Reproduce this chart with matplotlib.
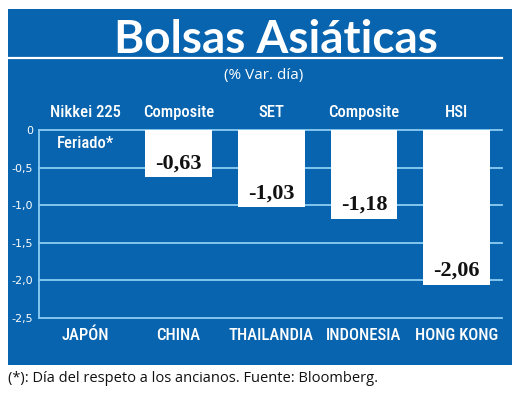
import numpy as np
import matplotlib
matplotlib.use("Agg")
import matplotlib.pyplot as plt
from matplotlib import font_manager
from matplotlib.patches import Rectangle
from matplotlib.lines import Line2D

# data
countries = ["JAPÓN", "CHINA", "THAILANDIA", "INDONESIA", "HONG KONG"]
indices = ["Nikkei 225", "Composite", "SET", "Composite", "HSI"]
values = [np.nan, -0.63, -1.03, -1.18, -2.06]     # Japan closed (holiday)
holiday_note = "Feriado*"
yticks = [0, -0.5, -1.0, -1.5, -2.0, -2.5]

BLUE, GRID, WHITE, INK = "#0864ae", "#8ccdf2", "#ffffff", "#111111"


def pick(*names):
    avail = {f.name for f in font_manager.fontManager.ttflist}
    for n in names:
        if n in avail:
            return n
    return "DejaVu Sans"


NARROW = pick("Roboto Condensed", "Liberation Sans Narrow", "Roboto")
LAB_FS = 12 if NARROW != "Roboto" else 11
SANS = pick("Open Sans", "Noto Sans", "DejaVu Sans")
HEAD = pick("Lato", "Open Sans", "DejaVu Sans")
SERIF = pick("Liberation Serif", "DejaVu Serif")

W, H = 520, 403
fig = plt.figure(figsize=(W / 100, H / 100), dpi=100)
fig.patch.set_facecolor("white")

# blue panel + rule under the title (figure pixels -> fractions)
fig.add_artist(Rectangle((8 / W, 1 - 365 / H), 504 / W, 356 / H,
                         transform=fig.transFigure, facecolor=BLUE, edgecolor="none", zorder=0))
fig.add_artist(Line2D([8 / W, 502 / W], [1 - 58 / H] * 2, transform=fig.transFigure,
                      color=WHITE, lw=1.6, zorder=1))
fig.text(276 / W, 1 - 53 / H, "Bolsas Asiáticas", ha="center", va="baseline",
         fontsize=33, fontweight="bold", color=WHITE, family=HEAD)
fig.text(264 / W, 1 - 76 / H, "(% Var. día)", ha="center", va="center",
         fontsize=11, color=WHITE, family=SANS)
fig.text(8 / W, 1 - 379 / H, "(*): Día del respeto a los ancianos. Fuente: Bloomberg.",
         ha="left", va="center", fontsize=10.5, color=INK, family=SANS)

ax = fig.add_axes([39 / W, 85 / H, 463 / W, 188 / H])
ax.patch.set_visible(False)
x = np.arange(len(countries))
v = np.array(values, dtype=float)
ok = ~np.isnan(v)
ax.bar(x[ok], v[ok], width=0.72, color=WHITE, zorder=3)

ax.set_xlim(-0.505, 4.49)
ax.set_ylim(-2.5, 0)
ax.set_yticks(yticks)
ax.set_yticklabels(["0" if t == 0 else f"{t:.1f}".replace(".", ",") for t in yticks])
ax.yaxis.grid(True, color=GRID, lw=1.3, zorder=1)
for ln in ax.get_ygridlines():
    ln.set_clip_on(False)
ax.set_axisbelow(True)
ax.set_xticks(x)
ax.set_xticklabels(countries, family=NARROW, fontsize=LAB_FS, fontweight="medium", color=WHITE)
ax.tick_params(axis="x", length=0, pad=7)
ax.tick_params(axis="y", length=0, pad=4, labelsize=8, labelcolor=WHITE)
for s in ("top", "right", "bottom"):
    ax.spines[s].set_visible(False)
ax.spines["left"].set_color(GRID)
ax.spines["left"].set_linewidth(1.3)

for i, (name, val) in enumerate(zip(indices, v)):
    ax.annotate(name, (i, 0), xytext=(0, 12.5), textcoords="offset points",
                ha="center", va="center", fontsize=LAB_FS, fontweight="medium",
                color=WHITE, family=NARROW, annotation_clip=False)
    if np.isnan(val):
        ax.annotate(holiday_note, (i, 0), xytext=(0, -10), textcoords="offset points",
                    ha="center", va="center", fontsize=LAB_FS, fontweight="medium",
                    color=WHITE, family=NARROW)
    else:
        ax.annotate(f"{val:.2f}".replace(".", ","), (i, val), xytext=(0, 3),
                    textcoords="offset points", ha="center", va="bottom",
                    fontsize=16, fontweight="bold", color=INK, family=SERIF, zorder=5)

fig.savefig("out.png", dpi=100, facecolor="white")
